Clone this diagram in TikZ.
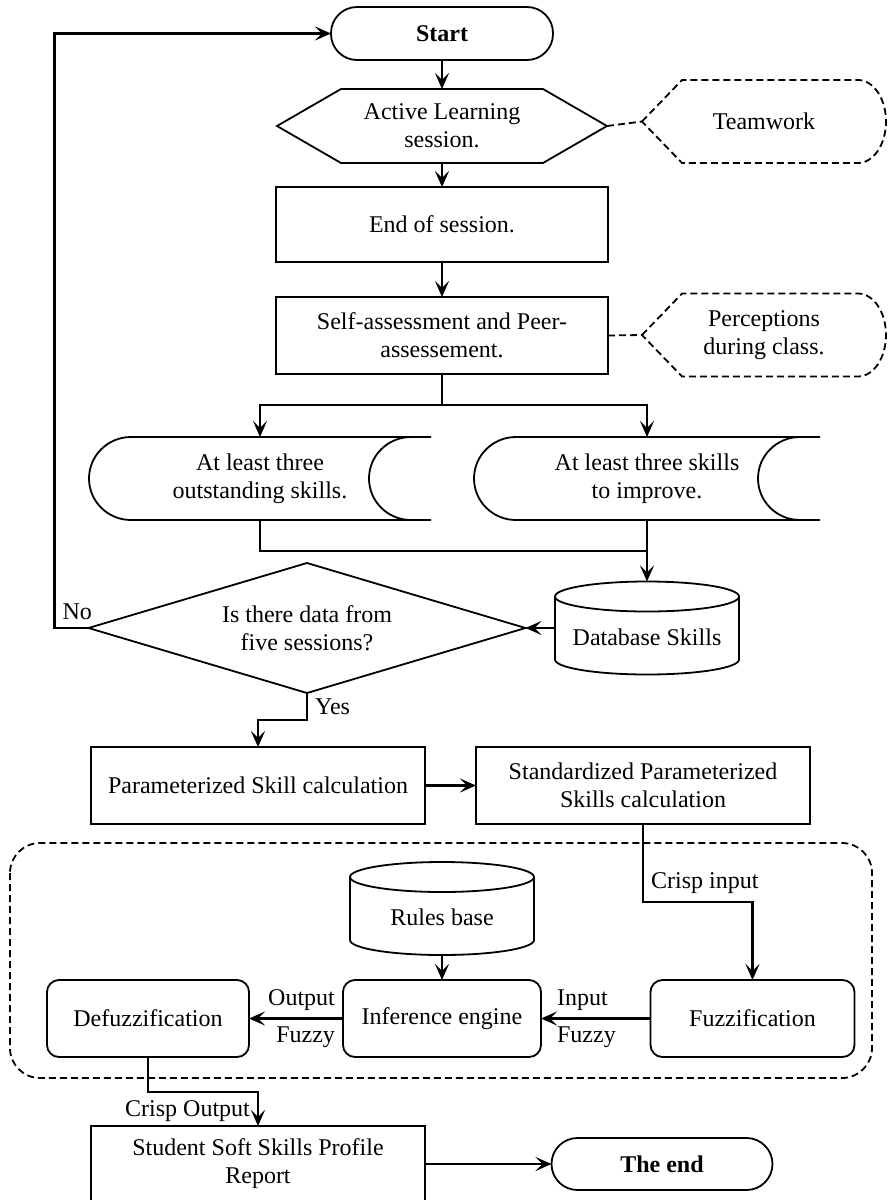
\documentclass[tikz,border=0pt]{standalone}
\usepackage{fontspec}
\setmainfont{Liberation Serif}
\usetikzlibrary{shapes.geometric, arrows.meta}

\begin{document}
\begin{tikzpicture}[
    x=1pt, y=1pt,
    txt/.style={font=\fontsize{24}{28}\selectfont, align=center, inner sep=2pt, outer sep=0pt},
    lbl/.style={font=\fontsize{24}{28}\selectfont, inner sep=7pt},
    term/.style={txt, draw, line width=1.8pt, rounded corners=26pt, minimum width=222,
                 minimum height=53, font=\fontsize{24}{28}\selectfont\bfseries},
    proc/.style={txt, draw, line width=1.8pt, minimum width=332, minimum height=77},
    soft/.style={txt, draw, line width=1.8pt, rounded corners=12pt, minimum width=202, minimum height=77},
    decision/.style={txt, draw, line width=1.8pt, diamond, aspect=3.4, inner sep=0pt,
                     minimum width=437, minimum height=130},
    stored/.style={txt, minimum height=83},
    disp/.style={txt, minimum width=244, minimum height=83},
    cyl/.style={txt, minimum width=184, minimum height=93, text height=39pt, text depth=5pt},
    outline/.style={line width=1.8pt},
    dashline/.style={line width=1.8pt, dash pattern=on 7pt off 4pt},
    group/.style={line width=1.8pt, dash pattern=on 7pt off 4pt, rounded corners=30pt},
    arr/.style={-{Stealth[length=16pt, width=14pt, inset=7pt]}, line width=2.2pt},
    link/.style={line width=2.2pt}
]
\useasboundingbox (0,0) rectangle (888,-1200);

\node[term] (start) at (442,-33.5) {Start};
\node[txt, minimum width=330, minimum height=74] (act) at (442,-126) {Active Learning\\session.};
\node[disp] (team) at (764,-121.5) {Teamwork};
\node[proc, minimum height=75] (sess) at (442,-224.5) {End of session.};
\node[proc] (self) at (442,-335.5) {Self-assessment and Peer-\\assessement.};
\node[disp] (perc) at (764,-335) {Perceptions\\during class.};
\node[stored, minimum width=342] (s1) at (260,-478.5) {At least three\\outstanding skills.};
\node[stored, minimum width=346] (s2) at (647,-478.5) {At least three skills\\to improve.};
\node[cyl] (db) at (647,-628) {Database Skills};
\node[decision] (dec) at (307,-628) {Is there data from\\five sessions?};
\node[proc, minimum width=334] (param) at (258,-785.5) {Parameterized Skill calculation};
\node[proc, minimum width=334] (std) at (643,-785.5) {Standardized Parameterized\\Skills calculation};
\node[cyl] (rules) at (442,-908.5) {Rules base};
\node[soft] (defuzz) at (148,-1018.5) {Defuzzification};
\node[soft, minimum width=198] (inf) at (442,-1018.5) {Inference engine};
\node[soft, minimum width=204] (fuzz) at (752.5,-1018.5) {Fuzzification};
\node[proc, minimum width=334, minimum height=76] (report) at (258,-1164) {Student Soft Skills Profile\\Report};
\node[term, minimum width=221, minimum height=52] (theend) at (662,-1164) {The end};

\draw[outline] ([xshift=64pt]act.north west) -- ([xshift=-64pt]act.north east) -- (act.east)
    -- ([xshift=-64pt]act.south east) -- ([xshift=64pt]act.south west) -- (act.west) -- cycle;
\foreach \n in {team,perc}
  \draw[dashline] (\n.west) -- ([xshift=40pt]\n.north west) -- ([xshift=-28pt]\n.north east)
    arc[start angle=90, end angle=-90, x radius=28pt, y radius=41.5pt]
    -- ([xshift=40pt]\n.south west) -- cycle;
\foreach \n in {s1,s2}
  \draw[outline] ([xshift=42pt]\n.north west) -- (\n.north east)
    (\n.south east) -- ([xshift=42pt]\n.south west)
    arc[start angle=270, end angle=90, x radius=42pt, y radius=41.5pt]
    ([xshift=-20pt]\n.north east) arc[start angle=90, end angle=270, x radius=42pt, y radius=41.5pt];
\foreach \n in {db,rules}
  \draw[outline] ([yshift=-15pt]\n.north west) -- ([yshift=15pt]\n.south west)
    arc[start angle=180, end angle=360, x radius=92pt, y radius=15pt] -- ([yshift=-15pt]\n.north east)
    ([yshift=-15pt]\n.north) ellipse[x radius=92pt, y radius=15pt];
\draw[group] (10,-843) rectangle (872,-1078);

\draw[arr] (start) -- (act);
\draw[arr] (act) -- (sess);
\draw[arr] (sess) -- (self);
\draw[dashline] (act.east) -- (team.west);
\draw[dashline] (self.east) -- (perc.west);
\draw[arr] (self.south) -- ++(0,-31) -| (s1.north);
\draw[arr] (self.south) -- ++(0,-31) -| (s2.north);
\draw[link] (s1.south) -- ++(0,-31) -| (s2.south);
\draw[arr] (s2.south) -- (db.north);
\draw[arr] (db.west) -- (dec.east);
\draw[arr] (dec.west) -- ++(-34,0) node[lbl, anchor=south west] {No} |- (start.west);
\draw[arr] (dec.south) -- node[lbl, right] {Yes} ++(0,-27) -| (param.north);
\draw[arr] (param) -- (std);
\draw[arr] (std.south) -- ++(0,-78) node[lbl, above right] {Crisp input} -| (fuzz.north);
\draw[arr] (rules) -- (inf);
\draw[arr] (fuzz.west) -- (inf.east) node[lbl, above right, xshift=8pt] {Input} node[lbl, below right, xshift=8pt] {Fuzzy};
\draw[arr] (inf.west) -- node[lbl, above left, pos=0] {Output} node[lbl, below left, pos=0] {Fuzzy} (defuzz.east);
\draw[arr] (defuzz.south) -- ++(0,-35) -| node[lbl, pos=0.5, below left] {Crisp Output} (report.north);
\draw[arr] (report) -- (theend);
\end{tikzpicture}
\end{document}
